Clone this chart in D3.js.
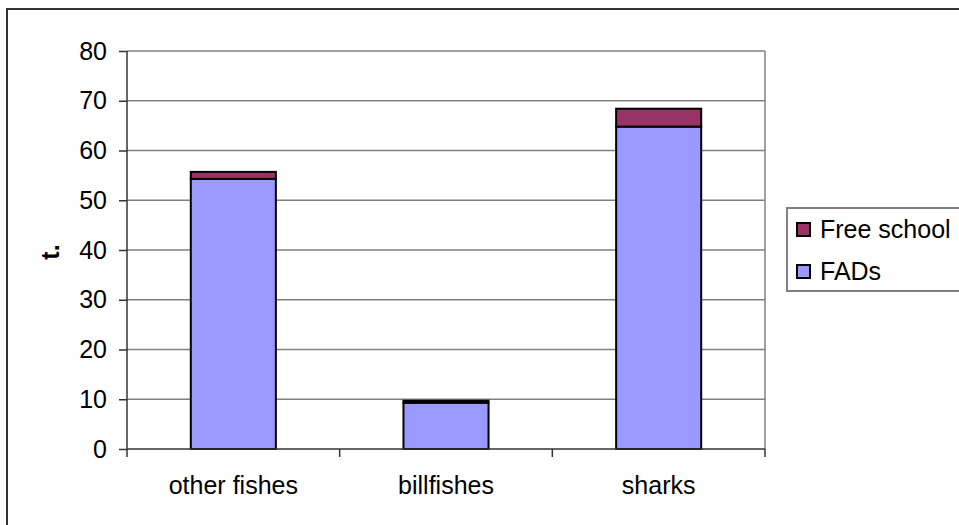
<!DOCTYPE html>
<html><head><meta charset="utf-8">
<script src="https://cdn.jsdelivr.net/npm/d3@7"></script>
<style>body{margin:0;background:#fff}svg{display:block}text{font-family:"Liberation Sans",Arial,sans-serif}</style>
</head><body>
<svg id="c" width="959" height="525"></svg>
<script>
const categories = ["other fishes", "billfishes", "sharks"];
const fads = [54.3, 9.3, 64.8];
const freeSchool = [1.4, 0.4, 3.6];
const seriesNames = ["Free school", "FADs"];
const yTicks = [0, 10, 20, 30, 40, 50, 60, 70, 80];

(function () {
const svg = d3.select("#c");
const FS = 25;
// outer border
svg.append("rect").attr("x", 7).attr("y", 9).attr("width", 1000).attr("height", 1000)
  .attr("fill", "none").attr("stroke", "#333").attr("stroke-width", 2);

const pLeft = 127, pRight = 765, pTop = 51, pBottom = 449;
const x = d3.scaleBand().domain(categories).range([pLeft, pRight]);
const y = d3.scaleLinear().domain([0, 80]).range([pBottom, pTop]);

// gridlines
svg.append("g").selectAll("line").data(yTicks.filter(d => d > 0)).join("line")
  .attr("x1", pLeft).attr("x2", pRight).attr("y1", d => y(d)).attr("y2", d => y(d))
  .attr("stroke", "#808080").attr("stroke-width", 1.5);
// plot area right border
svg.append("line").attr("x1", pRight).attr("x2", pRight).attr("y1", pTop).attr("y2", pBottom)
  .attr("stroke", "#808080").attr("stroke-width", 1.5);

// bars
const data = categories.map((c, i) => ({c, fads: fads[i], free: freeSchool[i]}));
const bw = x.bandwidth() * 0.4;
const g = svg.append("g");
data.forEach(d => {
  const bx = x(d.c) + (x.bandwidth() - bw) / 2;
  g.append("rect").attr("x", bx).attr("y", y(d.fads)).attr("width", bw).attr("height", y(0) - y(d.fads))
    .attr("fill", "#9999ff").attr("stroke", "#000").attr("stroke-width", 2);
  g.append("rect").attr("x", bx).attr("y", y(d.fads + d.free)).attr("width", bw).attr("height", y(d.fads) - y(d.fads + d.free))
    .attr("fill", "#993366").attr("stroke", "#000").attr("stroke-width", 2);
});

// y axis
const ya = svg.append("g").attr("transform", `translate(${pLeft},0)`)
  .call(d3.axisLeft(y).tickValues(yTicks).tickSize(8).tickPadding(12));
ya.select(".domain").attr("stroke", "#333").attr("stroke-width", 1.5).attr("d", `M0,${pTop}V${pBottom}`);
ya.selectAll(".tick line").attr("stroke", "#333").attr("stroke-width", 1.5);
ya.selectAll(".tick text").attr("font-size", FS).attr("fill", "#000")
  .style("font-family", '"Liberation Sans",Arial,sans-serif');

// x axis
const xa = svg.append("g").attr("transform", `translate(0,${pBottom})`);
xa.append("line").attr("x1", pLeft).attr("x2", pRight).attr("stroke", "#333").attr("stroke-width", 1.5);
const bounds = [pLeft, ...categories.map(c => x(c) + x.bandwidth())];
xa.selectAll(".tk").data(bounds).join("line").attr("class", "tk")
  .attr("x1", d => d).attr("x2", d => d).attr("y1", 0).attr("y2", 8)
  .attr("stroke", "#333").attr("stroke-width", 1.5);
xa.selectAll(".lab").data(categories).join("text").attr("class", "lab")
  .attr("x", d => x(d) + x.bandwidth() / 2).attr("y", 45)
  .attr("text-anchor", "middle").attr("font-size", FS).text(d => d);

// y label
svg.append("text").attr("transform", `translate(59,252) rotate(-90)`)
  .attr("text-anchor", "middle").attr("font-size", FS).attr("font-weight", "bold").text("t.");

// legend
const lg = svg.append("g");
lg.append("rect").attr("x", 787).attr("y", 208).attr("width", 300).attr("height", 83)
  .attr("fill", "#fff").attr("stroke", "#808080").attr("stroke-width", 2);
const colors = ["#993366", "#9999ff"];
seriesNames.forEach((s, i) => {
  const yy = 230 + i * 42;
  lg.append("rect").attr("x", 797).attr("y", yy - 7).attr("width", 13).attr("height", 13)
    .attr("fill", colors[i]).attr("stroke", "#000").attr("stroke-width", 2);
  lg.append("text").attr("x", 820).attr("y", yy + 8).attr("font-size", 25).text(s);
});
})();
</script>
</body></html>
